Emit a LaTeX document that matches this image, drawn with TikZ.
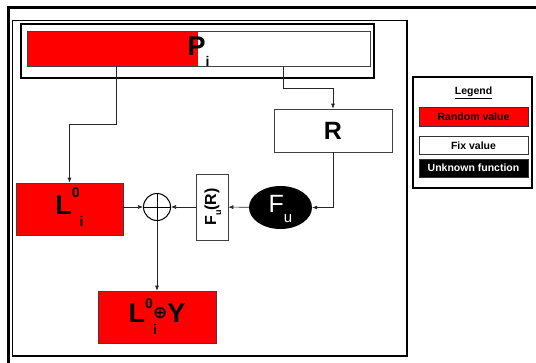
\documentclass[tikz,border=0pt]{standalone}
\usepackage{fontspec}
\setmainfont{Liberation Sans}
\newfontfamily\symfont{DejaVu Sans}
\usetikzlibrary{arrows.meta, positioning, shapes.geometric}
\newcommand{\fsz}[1]{\fontsize{#1}{#1}\selectfont}

\begin{document}
\begin{tikzpicture}[x=1pt,y=-1pt,
    box/.style={draw=black!75, line width=0.6pt, inner sep=0pt},
    arr/.style={draw=black!85, line width=0.6pt, -{Latex[length=5pt,width=4pt]}},
    legitem/.style={draw=black!80, line width=0.6pt, minimum width=109pt, minimum height=18pt, inner sep=0pt, font=\fsz{10.5}\bfseries}]
    \useasboundingbox (0,0) rectangle (536,362);
    \clip (0,0) rectangle (536,362);
    % frames
    \draw[line width=3pt] (8.5,7.5) rectangle (560,380);
    \draw[line width=1.2pt] (12.5,20.5) rectangle (407,356);
    % plaintext block
    \fill[red] (27,31) rectangle (198,66);
    \node[box, minimum width=343pt, minimum height=35pt, font=\fsz{27}\bfseries] (pbar) at (198.5,48.5) {\smash{\raisebox{-6.5pt}{P\raisebox{-11pt}{\fsz{14}i}}}};
    \node[draw, line width=1.5pt, minimum width=353pt, minimum height=54pt, inner sep=0pt] (pframe) at (197.5,51) {};
    \coordinate (pl) at (116,66);
    \coordinate (pr) at (283,66);
    % halves and function
    \node[box, minimum width=118pt, minimum height=43pt, font=\fsz{25}\bfseries] (rbox) at (333,130.5) {R};
    \node[box, fill=red, minimum width=107pt, minimum height=52pt, font=\fsz{27}\bfseries] (lbox) at (69.5,209) {\raisebox{8pt}{L\smash{\raisebox{17pt}{\fsz{14}0}\raisebox{-12pt}{\fsz{14}i}}}};
    \node[draw, circle, line width=1pt, minimum size=27pt, inner sep=0pt] (xor) at (157,207) {};
    \draw[line width=1pt] (xor.north) -- (xor.south) (xor.west) -- (xor.east);
    \node[box, rotate=90, minimum width=66pt, minimum height=32pt, font=\fsz{16}\bfseries] (fur) at (212,207) {F\smash{\raisebox{-5pt}{\fsz{9}u}}(R)};
    \node[ellipse, fill=black, minimum width=63pt, minimum height=43pt, inner sep=0pt, text=white, font=\fsz{25}] (fu) at (280.5,207.5) {\raisebox{8pt}{F\smash{\raisebox{-10pt}{\fsz{15}u}}}};
    \node[box, fill=red, minimum width=118pt, minimum height=52pt, font=\fsz{27}\bfseries] (lybox) at (157,317) {\raisebox{8pt}{L\smash{\raisebox{14pt}{\fsz{14}0}\rlap{\raisebox{-12pt}{\fsz{14}i}}\raisebox{4pt}{\fsz{17}\symfont ⊕}}Y}};
    % legend
    \node[draw, line width=1.2pt, minimum width=119pt, minimum height=111pt, inner sep=0pt] (legend) at (472.5,132.5) {};
    \node[font=\fsz{10.5}\bfseries] (legtitle) at (473.5,93) {\underline{Legend}};
    \node[legitem, fill=red, minimum height=19pt] (rnd) at (473.5,116.5) {Random value};
    \node[legitem] (fix) at (473.5,145.5) {Fix value};
    \node[legitem, fill=black, text=white] (unk) at (473.5,168) {Unknown function};
    % connectors
    \draw[arr] (pl) -- ++(0,58) -| (lbox.north);
    \draw[arr] (pr) -- ++(0,22) -| (rbox.north);
    \draw[arr] (rbox.south) |- (fu.east);
    \draw[arr] (fu) -- (fur);
    \draw[arr] (fur) -- (xor);
    \draw[arr] (lbox.east |- xor) -- (xor);
    \draw[arr] (xor) -- (lybox);
\end{tikzpicture}
\end{document}
